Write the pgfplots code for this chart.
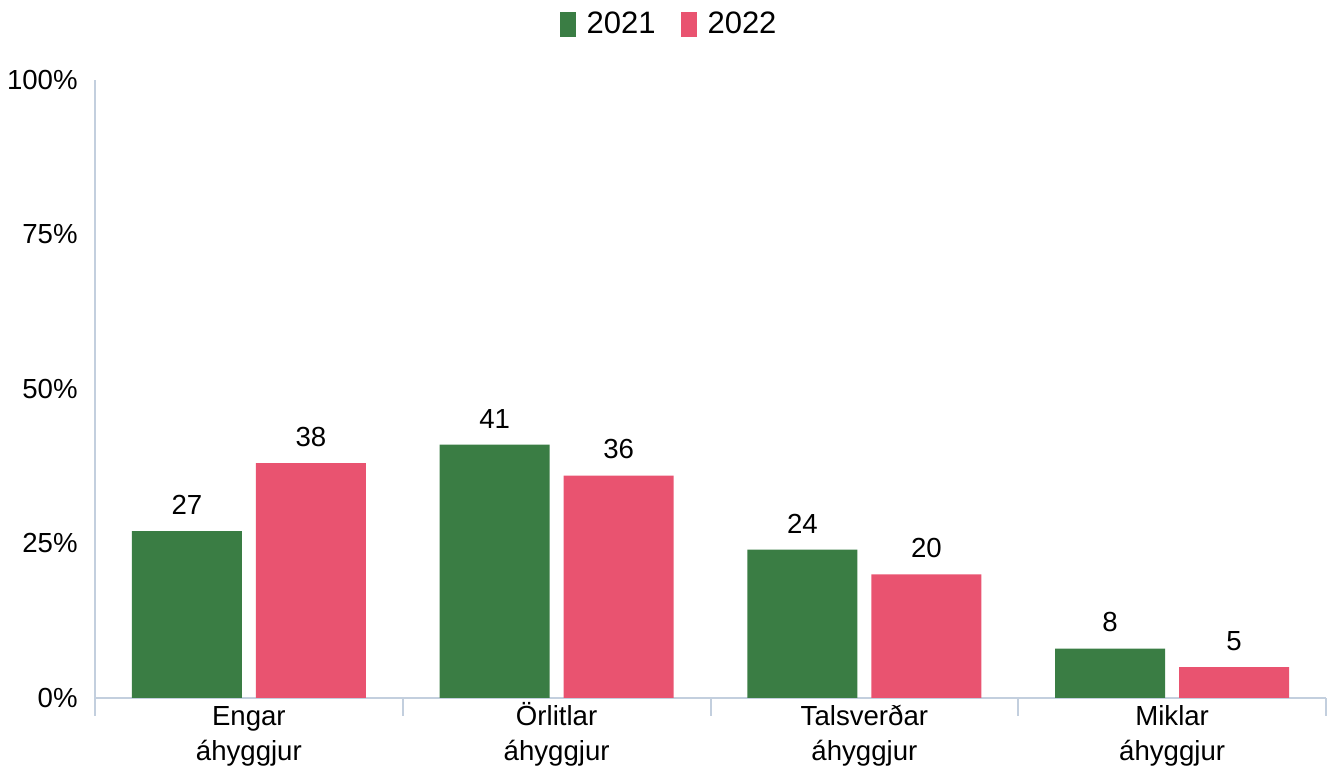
\documentclass[border=0pt]{standalone}
\usepackage{pgfplots}
\pgfplotsset{compat=1.18}
\usepackage{fontspec}
\setmainfont{Liberation Sans}
\definecolor{gr}{HTML}{3A7D44}
\definecolor{rd}{HTML}{E95370}
\definecolor{axc}{HTML}{C3CFDE}
\newcommand{\chfont}{\fontsize{13.8}{17.5}\selectfont}
\newcommand{\lgfont}{\fontsize{15.5}{18}\selectfont}
\begin{document}
\chfont
\begin{tikzpicture}
\begin{axis}[
    scale only axis,
    width=615.5pt,
    height=309pt,
    ybar=7pt,
    bar width=55pt,
    xmin=-0.5, xmax=3.5,
    ymin=0, ymax=100,
    axis x line*=bottom,
    axis y line*=left,
    axis line style={draw=axc, line width=1pt},
    tick style={draw=axc, line width=1pt},
    major tick length=0pt,
    xtick={0,1,2,3},
    xticklabels={{\vphantom{Ö}Engar\\áhyggjur},{\vphantom{Ö}Örlitlar\\áhyggjur},{\vphantom{Ö}Talsverðar\\áhyggjur},{\vphantom{Ö}Miklar\\áhyggjur}},
    xticklabel style={align=center, inner sep=0pt, anchor=north, yshift=-2pt, font=\chfont},
    extra x ticks={-0.5,0.5,1.5,2.5,3.5},
    extra x tick labels={},
    extra x tick style={major tick length=9pt, tick align=outside},
    ytick={0,25,50,75,100},
    yticklabels={0\%,25\%,50\%,75\%,100\%},
    yticklabel style={inner sep=0pt, anchor=east, xshift=-8.5pt, font=\chfont},
    nodes near coords,
    nodes near coords style={anchor=south, yshift=8pt, inner sep=0pt, font=\chfont},
    point meta=explicit symbolic,
    legend columns=2,
    legend style={at={(axis description cs:0.4655,1)}, anchor=center, yshift=27.5pt,
        draw=none, fill=none, font=\lgfont, column sep=5.5pt,
        nodes={inner sep=0pt},
        /tikz/every even column/.append style={column sep=12.5pt}},
    legend image code/.code={\fill[#1] (0pt,-6.25pt) rectangle (8pt,6.25pt);},
]
\addplot[fill=gr, draw=none] coordinates {(0,27)[27] (1,41)[41] (2,24)[24] (3,8)[8]};
\addplot[fill=rd, draw=none] coordinates {(0,38)[38] (1,36)[36] (2,20)[20] (3,5)[5]};
\legend{2021,2022}
\coordinate (bl) at (rel axis cs:0,0);
\end{axis}
\pgfresetboundingbox
\path (bl) ++(-47.5pt,-35.5pt) rectangle ++(668.5pt,384.5pt);
\end{tikzpicture}
\end{document}
